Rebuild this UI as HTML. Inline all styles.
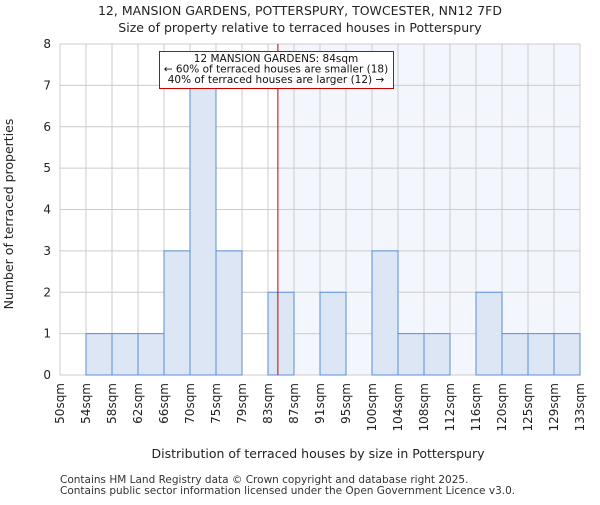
<!DOCTYPE html>
<html><head><meta charset="utf-8"><style>
body{margin:0;background:#fff;}
svg{font-family:"DejaVu Sans","Liberation Sans",sans-serif;}
</style></head><body>
<svg id="chart" width="600" height="500" xmlns="http://www.w3.org/2000/svg"></svg>
<script>
const binLabels=["50sqm","54sqm","58sqm","62sqm","66sqm","70sqm","75sqm","79sqm","83sqm","87sqm","91sqm","95sqm","100sqm","104sqm","108sqm","112sqm","116sqm","120sqm","125sqm","129sqm","133sqm"];
const counts=[0,1,1,1,3,7,3,0,2,0,2,0,3,1,1,0,2,1,1,1];
const yTicks=[0,1,2,3,4,5,6,7,8];
const markerBin=8.38;
const svg=document.getElementById('chart');
const NS="http://www.w3.org/2000/svg";
const L=60,R=580,T=44,B=375,yMax=8;
const nb=counts.length,bw=(R-L)/nb;
const X=i=>L+i*bw, Y=v=>B-(v/yMax)*(B-T);
function el(t,a,txt){const e=document.createElementNS(NS,t);for(const k in a)e.setAttribute(k,a[k]);if(txt!==undefined)e.textContent=txt;svg.appendChild(e);return e;}
let e;
e=el('rect',{x:L,y:T,width:R-L,height:B-T,fill:'#fff'});


const mx=X(markerBin);
e=el('rect',{x:mx,y:T,width:R-mx,height:B-T,fill:'#eef2fb',opacity:0.7});


for(let i=0;i<=nb;i++){e=el('line',{x1:X(i),x2:X(i),y1:T,y2:B,stroke:'#cccccc','stroke-width':1});

}
yTicks.forEach(v=>{e=el('line',{x1:L,x2:R,y1:Y(v),y2:Y(v),stroke:'#cccccc','stroke-width':1});


e=el('text',{x:L-9,y:Y(v)+4,'text-anchor':'end','font-size':12,fill:'#222'},String(v));

});
counts.forEach((c,i)=>{if(c<=0)return;e=el('rect',{x:X(i),y:Y(c),width:bw,height:B-Y(c),fill:'#dce6f5',stroke:'#5b8fd6','stroke-width':1});

});
binLabels.forEach((l,i)=>{e=el('text',{transform:`translate(${X(i)+4},${B+8}) rotate(-90)`,'text-anchor':'end','font-size':12,fill:'#222'},l);

});
e=el('line',{x1:mx,x2:mx,y1:T,y2:B,stroke:'#cc0000','stroke-width':1});


e=el('rect',{x:159.5,y:51.5,width:234,height:37,fill:'#fff',stroke:'#cc0000','stroke-width':1});


["12 MANSION GARDENS: 84sqm","← 60% of terraced houses are smaller (18)","40% of terraced houses are larger (12) →"].forEach((t,i)=>{
e=el('text',{x:276,y:62+i*10.5,'text-anchor':'middle','font-size':10.5,fill:'#111'},t);

});
e=el('text',{x:300,y:15,'text-anchor':'middle','font-size':12.5,fill:'#222'},"12, MANSION GARDENS, POTTERSPURY, TOWCESTER, NN12 7FD");


e=el('text',{x:300,y:32,'text-anchor':'middle','font-size':12.5,fill:'#222'},"Size of property relative to terraced houses in Potterspury");


e=el('text',{x:318,y:458,'text-anchor':'middle','font-size':12.5,fill:'#222'},"Distribution of terraced houses by size in Potterspury");


e=el('text',{transform:'translate(13,214) rotate(-90)','text-anchor':'middle','font-size':12.5,fill:'#222'},"Number of terraced properties");


e=el('text',{x:60,y:483,'font-size':10.5,fill:'#333'},"Contains HM Land Registry data © Crown copyright and database right 2025.");


e=el('text',{x:60,y:494,'font-size':10.5,fill:'#333'},"Contains public sector information licensed under the Open Government Licence v3.0.");


</script>
</body></html>
